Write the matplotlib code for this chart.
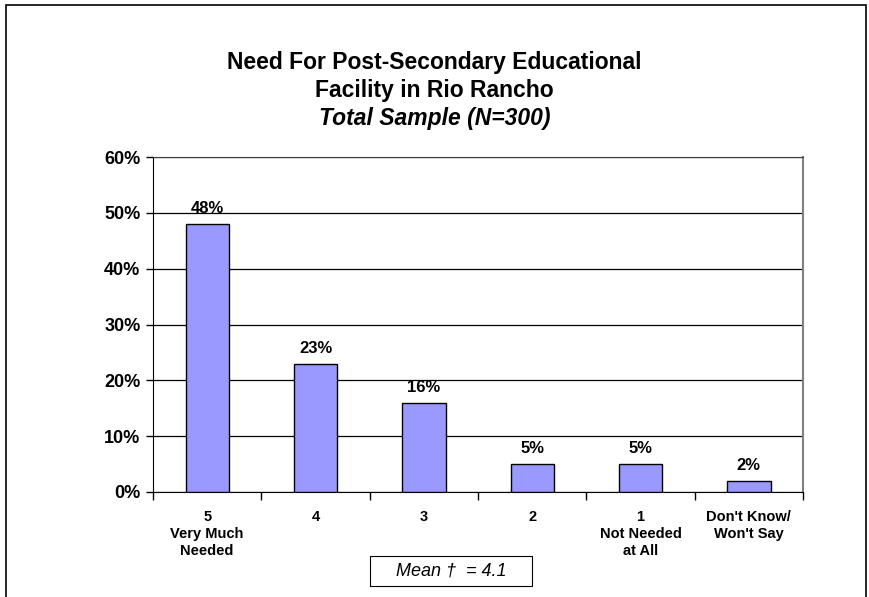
import numpy as np
import matplotlib
matplotlib.use("Agg")
import matplotlib.pyplot as plt
from matplotlib.patches import Rectangle

plt.rcParams['font.family'] = ['Liberation Sans', 'DejaVu Sans']

# dados
categorias = ["5\nVery Much\nNeeded", "4", "3", "2", "1\nNot Needed\nat All", "Don't Know/\nWon't Say"]
valores = [48, 23, 16, 5, 5, 2]
rotulos = ["48%", "23%", "16%", "5%", "5%", "2%"]
y_ticks = [0, 10, 20, 30, 40, 50, 60]
y_labels = ["0%", "10%", "20%", "30%", "40%", "50%", "60%"]

fig = plt.figure(figsize=(8.69, 5.97), dpi=100)
ax = fig.add_axes([153 / 869, 1 - 492 / 597, (803 - 153) / 869, (492 - 157) / 597])

x = np.arange(len(categorias))
ax.bar(x, valores, width=0.4, color="#9999FF", edgecolor="black", linewidth=1, zorder=3)

for xi, v, r in zip(x, valores, rotulos):
    ax.text(xi, v + 1.4, r, ha="center", va="bottom", fontsize=12, fontweight="bold")

ax.set_xlim(-0.5, len(categorias) - 0.5)
ax.set_ylim(0, 60)
ax.set_yticks(y_ticks)
ax.set_yticklabels(y_labels, fontsize=13, fontweight="bold")
ax.set_xticks(x)
ax.set_xticklabels(categorias, fontsize=10.5, fontweight="bold", linespacing=1.25)
ax.tick_params(axis="x", length=0, pad=13)
ax.set_xticks(np.arange(-0.5, len(categorias)), minor=True)
ax.tick_params(axis="x", which="minor", direction="out", length=6, width=1)
ax.tick_params(axis="y", direction="out", length=5, width=1, pad=4)

ax.grid(axis="y", color="black", linewidth=0.9, zorder=0)
ax.set_axisbelow(True)
ax.spines["left"].set_color("black")
ax.spines["bottom"].set_color("black")
ax.spines["top"].set_color("#404040")
ax.spines["right"].set_color("#808080")
ax.spines["right"].set_linewidth(1.5)

# titulo
fig.text(0.5, 1 - 62 / 597, "Need For Post-Secondary Educational", ha="center", va="center",
         fontsize=16.5, fontweight="bold")
fig.text(0.5, 1 - 90 / 597, "Facility in Rio Rancho", ha="center", va="center",
         fontsize=16.5, fontweight="bold")
fig.text(0.5, 1 - 118 / 597, "Total Sample (N=300)", ha="center", va="center",
         fontsize=16.5, fontweight="bold", style="italic")

# caixa da media
fig.text(451 / 869, 1 - 571 / 597, "Mean \u2020  = 4.1", ha="center", va="center",
         fontsize=13, style="italic")
fig.patches.append(Rectangle((370 / 869, 1 - 586 / 597), 162 / 869, 30 / 597,
                             transform=fig.transFigure, fill=False, edgecolor="black", linewidth=0.8))

# borda da figura
fig.patches.append(Rectangle((6 / 869, -0.05), 860 / 869, 1.05 - 5 / 597,
                             transform=fig.transFigure, fill=False, edgecolor="black", linewidth=1.2))

fig.savefig("out.png", dpi=100)
